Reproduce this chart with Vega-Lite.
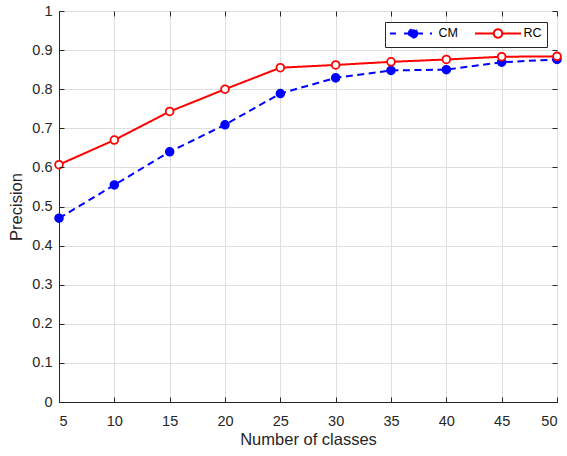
{
  "$schema": "https://vega.github.io/schema/vega-lite/v6.json",
  "width": 498,
  "height": 391,
  "autosize": {"type": "none"},
  "padding": {"left": 59, "top": 11, "right": 10, "bottom": 54},
  "background": "white",
  "config": {
    "font": "Liberation Sans",
    "view": {"stroke": "#262626", "strokeWidth": 1},
    "axis": {
      "domainColor": "#262626",
      "tickColor": "#262626",
      "labelColor": "#262626",
      "titleColor": "#262626",
      "labelFont": "Liberation Sans",
      "titleFont": "Liberation Sans",
      "labelFontSize": 14.5,
      "titleFontSize": 16.5,
      "titleFontWeight": "normal",
      "gridColor": "#dfdfdf",
      "gridWidth": 1
    }
  },
  "data": {
    "values": [
      {"classes": 5, "method": "CM", "precision": 0.47},
      {"classes": 10, "method": "CM", "precision": 0.555},
      {"classes": 15, "method": "CM", "precision": 0.64},
      {"classes": 20, "method": "CM", "precision": 0.709},
      {"classes": 25, "method": "CM", "precision": 0.789},
      {"classes": 30, "method": "CM", "precision": 0.829},
      {"classes": 35, "method": "CM", "precision": 0.848},
      {"classes": 40, "method": "CM", "precision": 0.85},
      {"classes": 45, "method": "CM", "precision": 0.869},
      {"classes": 50, "method": "CM", "precision": 0.876},
      {"classes": 5, "method": "RC", "precision": 0.607},
      {"classes": 10, "method": "RC", "precision": 0.67},
      {"classes": 15, "method": "RC", "precision": 0.743},
      {"classes": 20, "method": "RC", "precision": 0.8},
      {"classes": 25, "method": "RC", "precision": 0.855},
      {"classes": 30, "method": "RC", "precision": 0.862},
      {"classes": 35, "method": "RC", "precision": 0.87},
      {"classes": 40, "method": "RC", "precision": 0.876},
      {"classes": 45, "method": "RC", "precision": 0.883},
      {"classes": 50, "method": "RC", "precision": 0.884}
    ]
  },
  "resolve": {"axis": {"x": "independent", "y": "independent"}},
  "layer": [
    {
      "mark": {"type": "line", "strokeWidth": 2},
      "encoding": {
        "x": {
          "field": "classes", "type": "quantitative",
          "scale": {"domain": [5, 50], "nice": false, "zero": false},
          "axis": {"title": "Number of classes", "values": [5, 10, 15, 20, 25, 30, 35, 40, 45, 50], "grid": true, "ticks": false, "labelPadding": 12, "titlePadding": 3.5}
        },
        "y": {
          "field": "precision", "type": "quantitative",
          "scale": {"domain": [0, 1], "nice": false},
          "axis": {"title": "Precision", "values": [0, 0.1, 0.2, 0.3, 0.4, 0.5, 0.6, 0.7, 0.8, 0.9, 1], "format": "~g", "grid": true, "ticks": false, "labelPadding": 7, "titlePadding": 7.5}
        },
        "color": {
          "field": "method", "type": "nominal",
          "scale": {"domain": ["CM", "RC"], "range": ["#0000ff", "#ff0000"]},
          "legend": {
            "title": null,
            "orient": "none",
            "legendX": 326,
            "legendY": 11,
            "direction": "horizontal",
            "columns": 2,
            "columnPadding": 13,
            "padding": 5,
            "strokeColor": "#262626",
            "fillColor": "white",
            "symbolSize": 100,
            "symbolStrokeWidth": 2,
            "labelFontSize": 12.5,
            "labelColor": "#000000",
            "encode": {
              "symbols": {
                "update": {
                  "x": {"value": 5},
                  "shape": {"signal": "datum.value === 'CM' ? 'M-1,0H0.2M1.8,0H2.74M4.46,0H5.6M7,0H7.4M4.46,0L4.39,0.33L4.21,0.61L3.93,0.79L3.6,0.86L3.27,0.79L2.99,0.61L2.81,0.33L2.74,0L2.81,-0.33L2.99,-0.61L3.27,-0.79L3.6,-0.86L3.93,-0.79L4.21,-0.61L4.39,-0.33Z' : 'M-1,0H2.74M4.46,0H8.2M4.46,0L4.39,0.33L4.21,0.61L3.93,0.79L3.6,0.86L3.27,0.79L2.99,0.61L2.81,0.33L2.74,0L2.81,-0.33L2.99,-0.61L3.27,-0.79L3.6,-0.86L3.93,-0.79L4.21,-0.61L4.39,-0.33Z'"},
                  "fill": {"signal": "datum.value === 'CM' ? '#0000ff' : '#ffffff'"},
                  "stroke": {"signal": "datum.value === 'CM' ? '#0000ff' : '#ff0000'"},
                  "strokeWidth": {"value": 2},
                  "strokeDash": {"value": [1, 0]},
                  "opacity": {"value": 1}
                }
              },
              "labels": {
                "update": {
                  "x": {"value": 48.5}
                }
              }
            }
          }
        },
        "strokeDash": {
          "field": "method", "type": "nominal",
          "scale": {"domain": ["CM", "RC"], "range": [[7, 4.5], [1, 0]]},
          "legend": null
        }
      }
    },
    {
      "mark": {"type": "point", "shape": "circle", "size": 60, "strokeWidth": 1.8, "filled": true, "opacity": 1},
      "encoding": {
        "x": {"field": "classes", "type": "quantitative", "axis": null},
        "y": {"field": "precision", "type": "quantitative", "axis": null},
        "fill": {
          "field": "method", "type": "nominal",
          "scale": {"domain": ["CM", "RC"], "range": ["#0000ff", "#ffffff"]},
          "legend": null
        },
        "stroke": {
          "field": "method", "type": "nominal",
          "scale": {"domain": ["CM", "RC"], "range": ["#0000ff", "#ff0000"]},
          "legend": null
        }
      }
    },
    {
      "mark": {"type": "point", "opacity": 0},
      "encoding": {
        "x": {
          "field": "classes", "type": "quantitative",
          "axis": {"orient": "top", "title": null, "labels": false, "grid": false, "domain": false, "tickSize": 5, "offset": -5, "zindex": 1, "values": [5, 10, 15, 20, 25, 30, 35, 40, 45, 50]}
        },
        "y": {
          "field": "precision", "type": "quantitative",
          "axis": {"orient": "right", "title": null, "labels": false, "grid": false, "domain": false, "tickSize": 5, "offset": -5, "zindex": 1, "values": [0, 0.1, 0.2, 0.3, 0.4, 0.5, 0.6, 0.7, 0.8, 0.9, 1]}
        }
      }
    },
    {
      "mark": {"type": "point", "opacity": 0},
      "encoding": {
        "x": {
          "field": "classes", "type": "quantitative",
          "axis": {"orient": "bottom", "title": null, "labels": false, "grid": false, "domain": false, "tickSize": 5, "offset": -5, "zindex": 1, "values": [5, 10, 15, 20, 25, 30, 35, 40, 45, 50]}
        },
        "y": {
          "field": "precision", "type": "quantitative",
          "axis": {"orient": "left", "title": null, "labels": false, "grid": false, "domain": false, "tickSize": 5, "offset": -5, "zindex": 1, "values": [0, 0.1, 0.2, 0.3, 0.4, 0.5, 0.6, 0.7, 0.8, 0.9, 1]}
        }
      }
    }
  ]
}
